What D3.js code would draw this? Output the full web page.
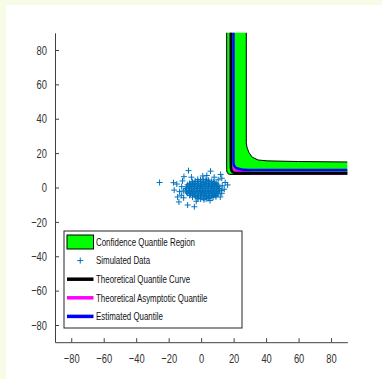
<!DOCTYPE html>
<html>
<head>
<meta charset="utf-8">
<script src="https://cdn.jsdelivr.net/npm/d3@7"></script>
<style>
  html, body { margin: 0; padding: 0; background: #f7fce6; }
  svg { display: block; }
  text { font-family: "Liberation Sans", Arial, Helvetica, sans-serif; }
</style>
</head>
<body>
<svg id="chart" width="382" height="379"></svg>
<script>
// ---- data ----
const xTicks = [-80, -60, -40, -20, 0, 20, 40, 60, 80];
const yTicks = [-80, -60, -40, -20, 0, 20, 40, 60, 80];

// lower / left edge of the confidence band, then upper / right edge
const regionLower = [[15.7, 95], [15.7, 10.5], [15.9, 9.0], [16.5, 8.0], [17.6, 7.6], [95, 7.6]];
const regionUpper = [[95, 14.8], [60, 15.1], [40.6, 15.5], [35.1, 16.0], [31.5, 17.6],
                     [29.3, 20.5], [28.2, 23.5], [27.8, 26.0], [27.8, 95]];

const theoreticalCurve = [[18.3, 95], [18.3, 12.0], [18.6, 10.0], [19.3, 9.0], [20.5, 8.5], [22.0, 8.4], [95, 8.4]];
const asymptoticCurve = [[18.3, 95], [18.3, 15.0], [18.4, 14.0], [18.7, 12.0], [19.5, 10.8], [21.0, 10.0],
                         [24.0, 9.3], [28.0, 8.7], [31.0, 8.4], [95, 8.4]];
const estimatedCurve = [[19.9, 95], [19.9, 15.0], [20.1, 13.0], [21.0, 11.8], [22.5, 11.0], [25.0, 10.5],
                        [29.0, 10.2], [95, 10.2]];

// simulated sample: dense core
const simulatedCore = [
  [-2.1, 4.7], [-0.4, 4.4], [1.3, 4.8], [3.0, 4.5], [4.4, 4.3],
  [-5.4, 3.4], [-3.7, 3.8], [-2.0, 3.5], [-0.3, 3.7], [1.4, 3.3], [3.1, 3.8], [4.8, 3.5], [6.5, 3.6], [7.5, 3.2],
  [-7.2, 2.4], [-5.5, 2.7], [-3.8, 2.3], [-2.1, 2.6], [-0.4, 2.5], [1.3, 2.8], [3.0, 2.4], [4.7, 2.6], [6.4, 2.3], [8.1, 2.7], [9.3, 2.4],
  [-8.3, 1.6], [-6.6, 1.3], [-4.9, 1.7], [-3.2, 1.4], [-1.5, 1.6], [0.2, 1.3], [1.9, 1.7], [3.6, 1.4], [5.3, 1.6], [7.0, 1.3], [8.7, 1.7], [10.2, 1.4],
  [-9.0, 0.4], [-7.3, 0.7], [-5.6, 0.3], [-3.9, 0.6], [-2.2, 0.4], [-0.5, 0.7], [1.2, 0.3], [2.9, 0.6], [4.6, 0.4], [6.3, 0.7], [8.0, 0.3], [9.7, 0.6], [10.9, 0.4],
  [-9.3, -0.6], [-7.6, -0.3], [-5.9, -0.7], [-4.2, -0.4], [-2.5, -0.6], [-0.8, -0.3], [0.9, -0.7], [2.6, -0.4], [4.3, -0.6], [6.0, -0.3], [7.7, -0.7], [9.4, -0.4], [11.1, -0.6],
  [-9.4, -1.4], [-7.7, -1.7], [-6.0, -1.3], [-4.3, -1.6], [-2.6, -1.4], [-0.9, -1.7], [0.8, -1.3], [2.5, -1.6], [4.2, -1.4], [5.9, -1.7], [7.6, -1.3], [9.3, -1.6], [11.2, -1.4],
  [-9.0, -2.6], [-7.3, -2.3], [-5.6, -2.7], [-3.9, -2.4], [-2.2, -2.6], [-0.5, -2.3], [1.2, -2.7], [2.9, -2.4], [4.6, -2.6], [6.3, -2.3], [8.0, -2.7], [9.7, -2.4], [10.9, -2.6],
  [-8.3, -3.4], [-6.6, -3.7], [-4.9, -3.3], [-3.2, -3.6], [-1.5, -3.4], [0.2, -3.7], [1.9, -3.3], [3.6, -3.6], [5.3, -3.4], [7.0, -3.7], [8.7, -3.3], [10.2, -3.6],
  [-7.1, -4.6], [-5.4, -4.3], [-3.7, -4.7], [-2.0, -4.4], [-0.3, -4.6], [1.4, -4.3], [3.1, -4.7], [4.8, -4.4], [6.5, -4.6], [8.2, -4.3], [9.2, -4.6],
  [-5.3, -5.6], [-3.6, -5.3], [-1.9, -5.7], [-0.2, -5.4], [1.5, -5.6], [3.2, -5.3], [4.9, -5.7], [6.6, -5.4], [7.4, -5.6],
  [-2.0, -6.4], [-0.3, -6.7], [1.4, -6.3], [3.1, -6.6], [4.3, -6.4]
];
// simulated sample: scattered outer points
const simulatedTail = [
  [-25.6, 2.9], [-17.0, 2.8], [-15.0, 2.0], [-16.6, -1.5], [-13.3, -2.4], [-13.7, -8.4], [-8.3, -10.2],
  [-4.2, -11.2], [-7.8, 9.8], [-10.6, 6.3], [1.0, 6.7], [5.8, 9.5], [12.0, 7.6], [12.7, 5.4], [14.8, 2.9],
  [16.3, 1.5], [14.2, -1.0], [12.7, -3.4], [1.8, -7.1], [9.1, -5.4], [-11.5, 3.8], [-12.2, -4.5],
  [-10.8, -6.0], [11.8, -5.5], [13.0, 1.0], [-6.0, 6.0], [3.5, 7.0], [8.0, 6.0], [-3.0, -8.0],
  [5.5, -7.6], [10.5, 4.5], [-12.0, 0.5], [12.5, -1.8], [-14.5, -5.5], [-11.0, -2.0]
];

const legendItems = [
  { label: "Confidence Quantile Region", kind: "patch", color: "#00ff00" },
  { label: "Simulated Data", kind: "marker", color: "#0072bd" },
  { label: "Theoretical Quantile Curve", kind: "line", color: "#000000" },
  { label: "Theoretical Asymptotic Quantile", kind: "line", color: "#ff00ff" },
  { label: "Estimated Quantile", kind: "line", color: "#0000ff" }
];

// ---- layout ----
const svg = d3.select("#chart");
const W = 382, H = 379;
const plot = { left: 55, right: 347.3, top: 32.8, bottom: 342.2 };
const axisColor = "#404040";
const textScale = 0.72;

svg.append("rect").attr("width", W).attr("height", H).attr("fill", "#f7fce6");
svg.append("rect").attr("x", 6).attr("y", 5).attr("width", W - 6).attr("height", H - 5).attr("fill", "#ffffff");

const x = d3.scaleLinear().domain([-90, 90]).range([plot.left, plot.right]);
const y = d3.scaleLinear().domain([-90, 90]).range([plot.bottom, plot.top]);

svg.append("clipPath").attr("id", "plotClip")
  .append("rect")
  .attr("x", plot.left).attr("y", plot.top)
  .attr("width", plot.right - plot.left).attr("height", plot.bottom - plot.top);

const g = svg.append("g").attr("clip-path", "url(#plotClip)");
const line = d3.line().x(d => x(d[0])).y(d => y(d[1]));

// confidence band
g.append("path")
  .attr("d", line(regionLower.concat(regionUpper)) + "Z")
  .attr("fill", "#00ff00")
  .attr("stroke", "#000")
  .attr("stroke-width", 1)
  .attr("stroke-linejoin", "round");

// simulated data as plus markers
const plusPath = (cx, cy, r) => `M${cx - r},${cy}H${cx + r}M${cx},${cy - r}V${cy + r}`;
g.append("path")
  .attr("d", simulatedCore.concat(simulatedTail).map(d => plusPath(x(d[0]), y(d[1]), 3)).join(""))
  .attr("fill", "none")
  .attr("stroke", "#0072bd")
  .attr("stroke-width", 1);

// quantile curves
[[asymptoticCurve, "#ff00ff"], [theoreticalCurve, "#000000"], [estimatedCurve, "#0000ff"]].forEach(([pts, col]) => {
  g.append("path")
    .attr("d", line(pts))
    .attr("fill", "none")
    .attr("stroke", col)
    .attr("stroke-width", 2.5)
    .attr("stroke-linejoin", "round");
});

// ---- axes ----
const yAxis = d3.axisLeft(y).tickValues(yTicks).tickSizeInner(-4).tickSizeOuter(0).tickPadding(8);
const xAxis = d3.axisBottom(x).tickValues(xTicks).tickSizeInner(-4).tickSizeOuter(0).tickPadding(12);

const gy = svg.append("g").attr("transform", `translate(${plot.left},0)`).call(yAxis);
const gx = svg.append("g").attr("transform", `translate(0,${plot.bottom})`).call(xAxis);

[gx, gy].forEach(ax => {
  ax.select(".domain").attr("stroke", axisColor).attr("stroke-width", 1);
  ax.selectAll(".tick line").attr("stroke", axisColor);
  ax.selectAll(".tick text")
    .attr("fill", "#333")
    .style("font-size", "13px")
    .style("font-family", '"Liberation Sans", Arial, sans-serif');
});
gy.selectAll(".tick text").each(function () {
  const t = d3.select(this);
  const tx = +t.attr("x");
  t.attr("x", 0).attr("transform", `translate(${tx},0) scale(${textScale},1)`);
});
gx.selectAll(".tick text").attr("transform", `scale(${textScale},1)`);

// ---- legend ----
const legend = { x: 64, y: 231, w: 178, h: 97, rowTop: 242, rowStep: 18.6, keyX0: 67, keyX1: 93.5, textX: 96 };
const lg = svg.append("g");
lg.append("rect")
  .attr("x", legend.x).attr("y", legend.y).attr("width", legend.w).attr("height", legend.h)
  .attr("fill", "#fff").attr("stroke", "#262626").attr("stroke-width", 1);

legendItems.forEach((item, i) => {
  const cy = legend.rowTop + i * legend.rowStep;
  if (item.kind === "patch") {
    lg.append("rect")
      .attr("x", legend.keyX0).attr("y", cy - 7).attr("width", legend.keyX1 - legend.keyX0).attr("height", 14)
      .attr("fill", item.color).attr("stroke", "#000").attr("stroke-width", 1);
  } else if (item.kind === "marker") {
    lg.append("path")
      .attr("d", plusPath((legend.keyX0 + legend.keyX1) / 2, cy, 3))
      .attr("stroke", item.color).attr("stroke-width", 1).attr("fill", "none");
  } else {
    lg.append("line")
      .attr("x1", legend.keyX0).attr("x2", legend.keyX1).attr("y1", cy).attr("y2", cy)
      .attr("stroke", item.color).attr("stroke-width", 3.5);
  }
  lg.append("text")
    .attr("transform", `translate(${legend.textX},${cy}) scale(${textScale},1)`)
    .attr("dy", "0.35em")
    .attr("fill", "#111")
    .style("font-size", "11px")
    .text(item.label);
});
</script>
</body>
</html>
